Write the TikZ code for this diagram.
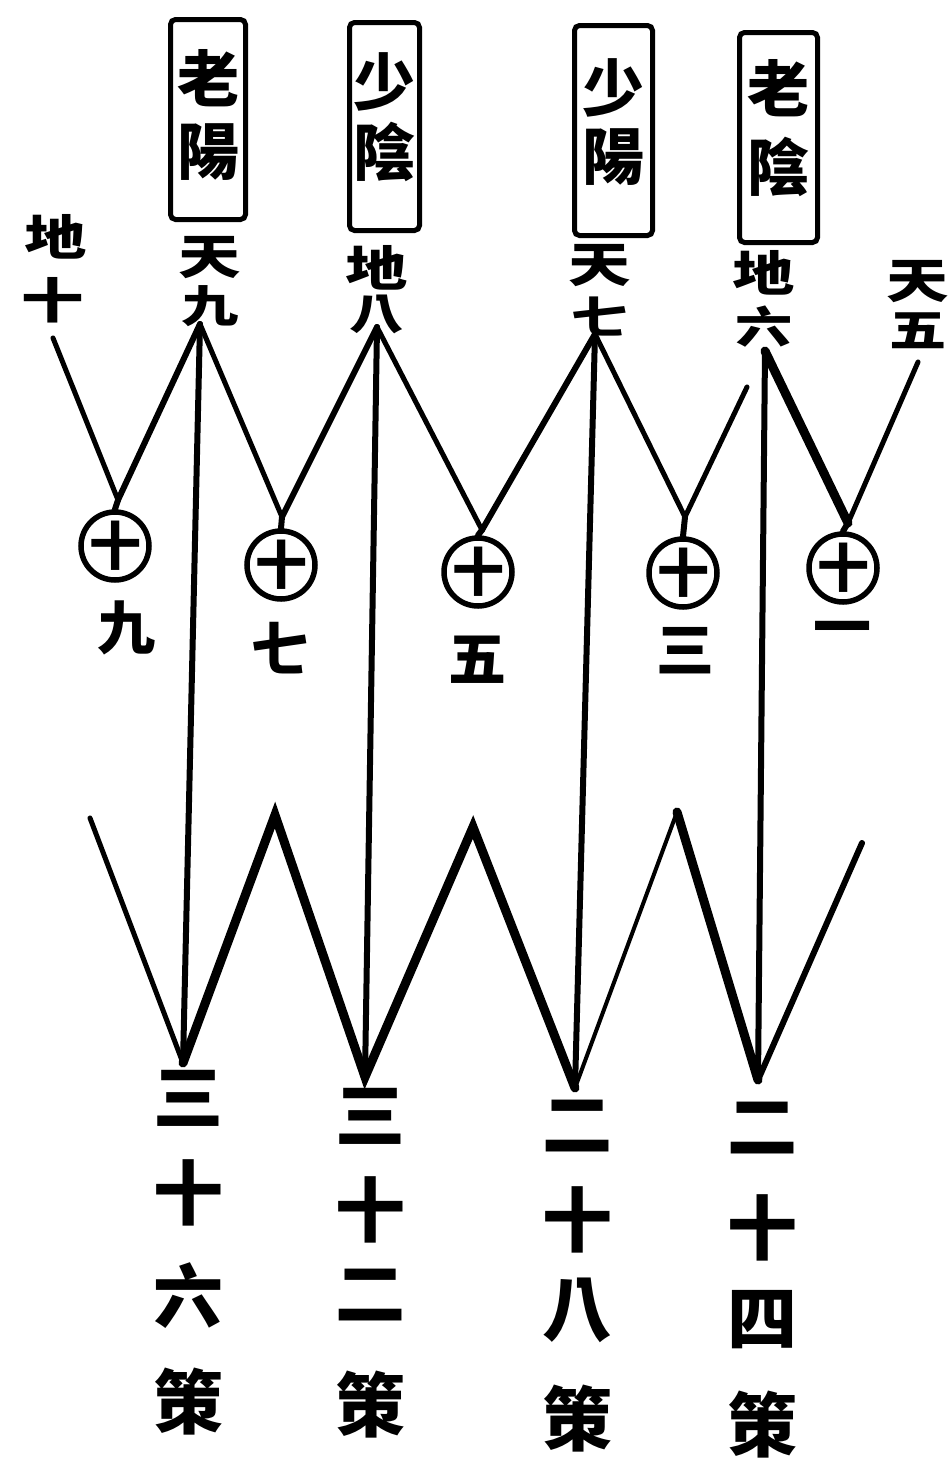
\documentclass[tikz,border=0pt]{standalone}
\usepackage{fontspec}
\newfontfamily\cjk{Noto Sans CJK TC}
\newfontfamily\cjkwide{Noto Sans CJK TC}[FakeStretch=1.3]
\begin{document}
\begin{tikzpicture}[x=1pt,y=-1pt,line cap=round]
\tikzset{
  ch/.style={inner sep=0pt, font=\cjk\bfseries\fontsize{#1}{#1}\selectfont},
  topch/.style={inner sep=0pt, font=\cjkwide\bfseries\fontsize{#1}{#1}\selectfont},
  frame/.style={draw, line width=5pt, rounded corners=5pt, inner sep=0pt},
  ring/.style={circle, draw, line width=5.5pt, minimum size=68pt, inner sep=0pt},
  lw3/.style={line width=4pt},
  lw4/.style={line width=5pt},
  lw5/.style={line width=6pt},
  lw7/.style={line width=9pt},
}
\fill[white] (0,0) rectangle (951,1470);
\useasboundingbox (0,0) rectangle (951,1470);

% framed labels
\node[frame, minimum width=75pt, minimum height=200pt] (f1) at (208,119.5) {};
\node[frame, minimum width=70pt, minimum height=208pt] (f2) at (384.5,126.5) {};
\node[frame, minimum width=78pt, minimum height=210pt] (f3) at (613.5,130.5) {};
\node[frame, minimum width=78pt, minimum height=210pt] (f4) at (778.5,137.5) {};
\node[ch=62] (f1a) at (208,78) {老};
\node[ch=62] (f1b) at (208,152) {陽};
\node[ch=62] (f2a) at (384,82) {少};
\node[ch=62] (f2b) at (384,152) {陰};
\node[ch=62] (f3a) at (613,88) {少};
\node[ch=62] (f3b) at (613,157) {陽};
\node[ch=62] (f4a) at (778,88) {老};
\node[ch=62] (f4b) at (778,167) {陰};

% top labels
\node[topch=48] (l0a) at (56,237) {地};
\node[topch=48] (l0b) at (53,300) {十};
\node[topch=48] (l1a) at (210,258) {天};
\node[topch=44] (l1b) at (210,306) {九};
\node[topch=48] (l2a) at (377,268) {地};
\node[topch=42] (l2b) at (377,314) {八};
\node[topch=48] (l3a) at (600,266) {天};
\node[topch=44] (l3b) at (600,317) {七};
\node[topch=48] (l4a) at (764,273) {地};
\node[topch=44] (l4b) at (764,327) {六};
\node[topch=48] (l5a) at (918,282) {天};
\node[topch=44] (l5b) at (918,331) {五};

% circles with cross
\node[ring, label={[ch=52]center:十}] (c1) at (115,546) {};
\node[ring, label={[ch=52]center:十}] (c2) at (281,565) {};
\node[ring, label={[ch=52]center:十}] (c3) at (478,572) {};
\node[ring, label={[ch=52]center:十}] (c4) at (683,573) {};
\node[ring, label={[ch=52]center:十}] (c5) at (843,568) {};

% numbers under circles
\node[ch=58] (n1) at (126,628) {九};
\node[ch=58] (n2) at (280,648) {七};
\node[ch=58] (n3) at (477,660) {五};
\node[ch=58] (n4) at (685,651) {三};
\node[ch=58] (n5) at (842,635) {一};

% bottom columns
\foreach \n/\x/\y/\t in {
  p1/188/1098/三, p2/188/1193/十, p3/188/1296/六, p4/188/1402/策,
  q1/370/1116/三, q2/370/1210/十, q3/370/1295/二, q4/370/1405/策,
  r1/577/1126/二, r2/577/1220/十, r3/577/1310/八, r4/577/1419/策,
  s1/762/1128/二, s2/762/1228/十, s3/762/1320/四, s4/762/1425/策}
  \node[ch=70] (\n) at (\x,\y) {\t};

% coordinates
\coordinate (t0) at (53,338);
\coordinate (a1) at (200,324);
\coordinate (a2) at (377,327);
\coordinate (a3) at (595,334);
\coordinate (a4) at (765,351);
\coordinate (t5) at (918,362);
\coordinate (e4) at (747,387);
\coordinate (v1) at (118,500);
\coordinate (v2) at (282,517);
\coordinate (v3) at (482,530);
\coordinate (v4) at (685,517);
\coordinate (v5) at (848,523);
\coordinate (b0) at (90,818);
\coordinate (b1) at (183,1063);
\coordinate (u1) at (275,815);
\coordinate (b2) at (365,1077);
\coordinate (u2) at (473,827);
\coordinate (b3) at (575,1088);
\coordinate (u3) at (677,812);
\coordinate (b4) at (758,1080);
\coordinate (b5) at (862,843);

% top zigzag
\draw[lw4] (t0) -- (v1);
\draw[lw5] (v1) -- (a1);
\draw[lw4] (a1) -- (v2);
\draw[lw5] (v2) -- (a2);
\draw[lw4] (a2) -- (v3);
\draw[lw5] (v3) -- (a3);
\draw[lw4] (a3) -- (v4);
\draw[lw4] (v4) -- (e4);
\draw[lw7] (a4) -- (v5);
\draw[lw4] (v5) -- (t5);
\foreach \i in {1,...,5} \draw[lw5] (v\i) -- (c\i.north);

% verticals
\draw[lw5] (a1) -- (b1);
\draw[lw5] (a2) -- (b2);
\draw[lw5] (a3) -- (b3);
\draw[lw5] (a4) -- (b4);

% bottom zigzag
\draw[lw4] (b0) -- (b1);
\draw[lw7] (b1) -- (u1) -- (b2) -- (u2) -- (b3);
\draw[lw3] (b3) -- (u3);
\draw[lw7] (u3) -- (b4);
\draw[lw5] (b4) -- (b5);
\end{tikzpicture}
\end{document}
